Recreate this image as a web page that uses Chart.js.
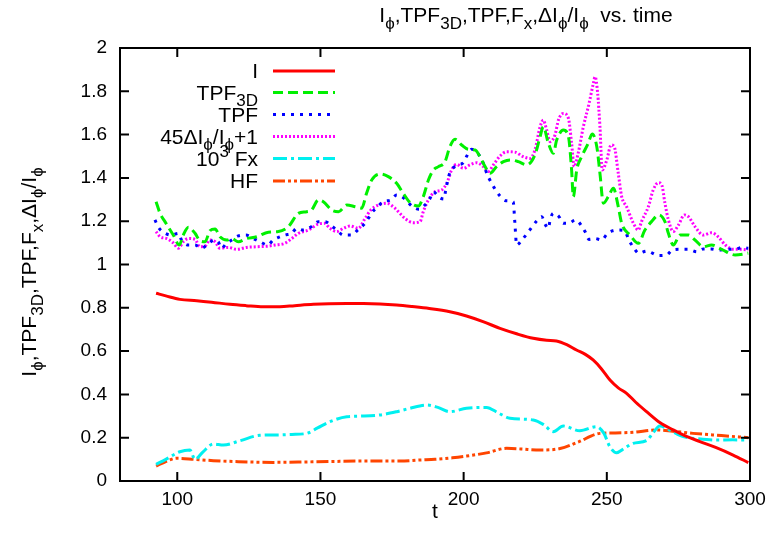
<!DOCTYPE html>
<html lang="en">
<head>
<meta charset="UTF-8">
<title>I, TPF vs. time</title>
<script src="https://cdn.jsdelivr.net/npm/chart.js"></script>
<style>
  body { margin: 0; background: #fff; }
  #chart { display: block; }
</style>
</head>
<body>
<canvas id="chart" width="778" height="548"></canvas>
<script>
// ---- data ----
const iT = [92.6, 96, 100.9, 106.8, 112, 118.4, 124, 130, 135.8, 141, 147.5, 153, 159.2, 165, 170.8, 176.6, 182, 188, 195.2, 201, 207, 212.7, 218.5, 224.3, 229, 232.4, 236, 239.4, 242.5, 245.2, 248, 251.1, 254, 256.9, 260, 263.9, 268.5, 273.2, 278, 282.5, 288, 294.1, 299.4];
const iVal = [0.867, 0.855, 0.839, 0.833, 0.826, 0.816, 0.81, 0.805, 0.805, 0.81, 0.816, 0.819, 0.82, 0.82, 0.818, 0.813, 0.806, 0.797, 0.782, 0.762, 0.735, 0.705, 0.68, 0.659, 0.65, 0.647, 0.63, 0.605, 0.585, 0.559, 0.52, 0.466, 0.43, 0.405, 0.365, 0.32, 0.27, 0.236, 0.205, 0.182, 0.155, 0.12, 0.085];

const tpf3dT = [92.6, 94, 95.7, 98.6, 100.7, 102.1, 103.9, 106.2, 107.9, 109.7, 111.4, 113.2, 114.9, 117.3, 119, 121.3, 124.2, 127.7, 131.8, 135.3, 138.8, 142.3, 145.2, 146.9, 149.3, 151, 153.9, 156.3, 159.2, 162.1, 164.4, 166.1, 167.9, 170.8, 173.7, 176.6, 178.9, 181.3, 184.2, 185.9, 187.7, 189.4, 191.2, 193.5, 195.2, 197, 199.3, 201.6, 204, 205.7, 207.5, 209.2, 211.5, 213.9, 216.2, 219.1, 222, 224.9, 226.7, 227.8, 229.6, 231.3, 232.5, 234.8, 236.6, 237.7, 238.3, 239.5, 241.2, 243.5, 244.9, 246.5, 247.6, 248.8, 250.5, 252.3, 254, 255.2, 258.1, 261, 263.3, 265.6, 268.2, 270.3, 271.5, 273.2, 275.6, 278.5, 280.8, 283.7, 286.6, 290.1, 294.8, 299.4];
const tpf3dVal = [1.29, 1.236, 1.198, 1.136, 1.09, 1.136, 1.172, 1.144, 1.11, 1.105, 1.156, 1.164, 1.128, 1.113, 1.12, 1.105, 1.12, 1.128, 1.149, 1.152, 1.175, 1.236, 1.244, 1.252, 1.298, 1.29, 1.252, 1.244, 1.275, 1.267, 1.26, 1.329, 1.39, 1.418, 1.406, 1.375, 1.329, 1.286, 1.27, 1.313, 1.39, 1.436, 1.452, 1.475, 1.544, 1.578, 1.552, 1.532, 1.529, 1.498, 1.452, 1.421, 1.452, 1.475, 1.483, 1.475, 1.46, 1.506, 1.59, 1.636, 1.56, 1.514, 1.575, 1.621, 1.59, 1.437, 1.313, 1.437, 1.498, 1.56, 1.603, 1.544, 1.421, 1.283, 1.313, 1.352, 1.267, 1.19, 1.136, 1.098, 1.159, 1.198, 1.229, 1.198, 1.144, 1.09, 1.136, 1.136, 1.113, 1.082, 1.09, 1.07, 1.044, 1.052];

const tpfT = [92.2, 93.4, 95.4, 98, 100.4, 101.5, 103.9, 106.2, 108.5, 110.8, 112.8, 114.3, 115.5, 117, 119, 121.3, 124, 126.6, 128.9, 131.6, 133.5, 135.3, 137.6, 140, 141.7, 144, 146.9, 149.3, 151.6, 153.9, 155.7, 158, 160.9, 163, 165, 166.7, 167.9, 170, 171.9, 174.6, 176.6, 178.4, 180.1, 181.9, 184.5, 186.5, 188.3, 189.4, 191.5, 193.1, 193.7, 194.9, 196.2, 198.1, 199.9, 201.1, 202.8, 204.9, 206.5, 208.3, 209.6, 211, 212.7, 214.7, 217.3, 217.9, 218.5, 220.5, 222.4, 223.8, 225.5, 227.3, 228.4, 229.6, 230.2, 231.3, 233.3, 234.8, 236.6, 239.1, 241, 242.4, 243.8, 245.9, 248.2, 250.1, 251.9, 254.3, 256.1, 257.9, 259.3, 261.2, 263.9, 268.2, 270.9, 272.9, 275.6, 278.5, 281.4, 283.7, 286.4, 288.9, 291.9, 294.8, 297.3, 299.4];
const tpfVal = [1.206, 1.172, 1.147, 1.136, 1.144, 1.113, 1.09, 1.09, 1.075, 1.095, 1.113, 1.105, 1.075, 1.095, 1.113, 1.132, 1.136, 1.12, 1.105, 1.09, 1.113, 1.125, 1.136, 1.144, 1.167, 1.159, 1.175, 1.198, 1.198, 1.178, 1.159, 1.136, 1.136, 1.159, 1.182, 1.213, 1.239, 1.267, 1.29, 1.298, 1.321, 1.313, 1.295, 1.27, 1.255, 1.275, 1.306, 1.336, 1.31, 1.302, 1.34, 1.413, 1.444, 1.46, 1.47, 1.501, 1.532, 1.514, 1.479, 1.413, 1.38, 1.347, 1.316, 1.295, 1.29, 1.19, 1.09, 1.116, 1.147, 1.172, 1.201, 1.221, 1.187, 1.167, 1.206, 1.236, 1.221, 1.19, 1.19, 1.206, 1.182, 1.152, 1.116, 1.12, 1.113, 1.141, 1.155, 1.159, 1.156, 1.109, 1.079, 1.052, 1.062, 1.041, 1.044, 1.067, 1.07, 1.07, 1.059, 1.072, 1.072, 1.067, 1.07, 1.07, 1.079, 1.075];

const dIT = [92.6, 94, 96.3, 98.6, 100.4, 102.1, 103.9, 106.2, 107.9, 109.7, 111.4, 113.2, 114.9, 117.8, 120.7, 124.2, 127.7, 131.8, 134.1, 137.6, 140, 142.3, 145.8, 149.3, 151.4, 153.3, 155.7, 158, 160.3, 163.2, 165.6, 167.6, 170.2, 173.1, 176, 177.2, 179.5, 182.4, 184.8, 185.9, 187.7, 190, 192.3, 194.1, 195.8, 197.6, 199.9, 202.2, 204.6, 206.9, 208.6, 210.4, 212.7, 215, 217.9, 220.8, 223.2, 224.9, 226.7, 227.8, 229, 230.2, 231.9, 233.1, 234.8, 236.6, 237.7, 238.6, 240, 241.8, 243.8, 245.3, 245.9, 246.8, 247.6, 248.4, 250, 251.5, 252.6, 254, 255.2, 256.9, 259.3, 261, 262.1, 264.5, 266.2, 268, 269.2, 270.3, 271.5, 273.2, 275, 277.1, 278.5, 280.8, 283.7, 286.6, 288.9, 291.4, 294.2, 297.1, 299.4];
const dIVal = [1.152, 1.128, 1.12, 1.1, 1.075, 1.105, 1.12, 1.116, 1.082, 1.085, 1.113, 1.105, 1.075, 1.079, 1.07, 1.079, 1.082, 1.085, 1.09, 1.098, 1.12, 1.144, 1.159, 1.187, 1.19, 1.167, 1.152, 1.167, 1.178, 1.167, 1.213, 1.252, 1.275, 1.283, 1.26, 1.244, 1.213, 1.193, 1.198, 1.244, 1.298, 1.336, 1.344, 1.375, 1.436, 1.463, 1.444, 1.46, 1.47, 1.452, 1.429, 1.46, 1.501, 1.521, 1.519, 1.498, 1.49, 1.529, 1.636, 1.667, 1.621, 1.567, 1.598, 1.667, 1.698, 1.675, 1.56, 1.452, 1.514, 1.636, 1.744, 1.837, 1.867, 1.791, 1.636, 1.437, 1.483, 1.552, 1.544, 1.421, 1.313, 1.267, 1.19, 1.159, 1.198, 1.267, 1.344, 1.378, 1.367, 1.283, 1.206, 1.152, 1.182, 1.229, 1.221, 1.175, 1.136, 1.147, 1.128, 1.09, 1.07, 1.07, 1.067];

const fxT = [92.6, 96, 100.9, 104.4, 106.2, 109, 112.6, 116.1, 121.9, 128.9, 135.8, 140, 145.2, 149, 153.3, 159.2, 165, 170.8, 176.6, 181, 187.1, 191, 195.2, 201, 208, 212, 216.2, 224.3, 228, 231.3, 234.8, 240.6, 246.4, 249, 251, 253.4, 256, 259.2, 263.9, 266, 268.5, 272, 276.7, 282, 288.3, 294, 299.4];
const fxVal = [0.077, 0.1, 0.135, 0.143, 0.1, 0.135, 0.171, 0.166, 0.186, 0.211, 0.213, 0.215, 0.22, 0.245, 0.274, 0.297, 0.3, 0.305, 0.32, 0.335, 0.351, 0.34, 0.32, 0.336, 0.34, 0.315, 0.29, 0.282, 0.26, 0.228, 0.254, 0.232, 0.251, 0.22, 0.16, 0.131, 0.15, 0.174, 0.187, 0.22, 0.254, 0.235, 0.205, 0.195, 0.189, 0.19, 0.189];

const hfT = [92.6, 96, 99.8, 106, 112.6, 120, 133.5, 145, 153.3, 165, 177.8, 184.7, 190, 196, 201, 208, 215, 220, 226.6, 233.7, 240, 247.6, 253, 259.2, 267.3, 273, 280.1, 290, 299.4];
const hfVal = [0.069, 0.09, 0.105, 0.1, 0.094, 0.09, 0.086, 0.088, 0.09, 0.092, 0.092, 0.097, 0.1, 0.107, 0.115, 0.13, 0.151, 0.148, 0.143, 0.15, 0.18, 0.22, 0.222, 0.225, 0.236, 0.23, 0.22, 0.21, 0.2];

const xTicks = [100, 150, 200, 250, 300];
const yTicks = [0, 0.2, 0.4, 0.6, 0.8, 1, 1.2, 1.4, 1.6, 1.8, 2];

const PHI = '\u03D5';
// rich text pieces: [text, 'n' | 'sub' | 'sup']
const titleParts = [['I','n'],[PHI,'sub'],[',TPF','n'],['3D','sub'],[',TPF,F','n'],['x','sub'],[',\u0394I','n'],[PHI,'sub'],['/I','n'],[PHI,'sub'],['  vs. time','n']];
const yLabelParts = [['I','n'],[PHI,'sub'],[',TPF','n'],['3D','sub'],[',TPF,F','n'],['x','sub'],[',\u0394I','n'],[PHI,'sub'],['/I','n'],[PHI,'sub']];
const legendParts = [
  [['I','n']],
  [['TPF','n'],['3D','sub']],
  [['TPF','n']],
  [['45\u0394I','n'],[PHI,'sub'],['/I','n'],[PHI,'sub'],['+1','n']],
  [['10','n'],['3','sup'],[' Fx','n']],
  [['HF','n']]
];

const FONT = '"Liberation Sans", Arial, Helvetica, sans-serif';
const FS = 19;   // tick labels
const LS = 21;   // title, axis labels, key

function pts(ts, vs) { return ts.map((t, i) => ({ x: t, y: vs[i] })); }

function partFont(kind, size) {
  return (kind === 'n' ? size : Math.round(size * 0.8)) + 'px ' + FONT;
}
function richWidth(ctx, parts, size) {
  let w = 0;
  parts.forEach(p => { ctx.font = partFont(p[1], size); w += ctx.measureText(p[0]).width; });
  return w;
}
function drawRich(ctx, parts, x, y, size, align) {
  const w = richWidth(ctx, parts, size);
  let cx = align === 'right' ? x - w : (align === 'center' ? x - w / 2 : x);
  ctx.textBaseline = 'alphabetic';
  ctx.textAlign = 'left';
  parts.forEach(p => {
    ctx.font = partFont(p[1], size);
    let dy = 0;
    if (p[1] === 'sub') dy = size * 0.32;
    if (p[1] === 'sup') dy = -size * 0.42;
    ctx.fillText(p[0], cx, y + dy);
    cx += ctx.measureText(p[0]).width;
  });
}

const framePlugin = {
  id: 'frame',
  afterDraw(chart) {
    const { ctx, chartArea: a, scales } = chart;
    ctx.save();
    ctx.strokeStyle = '#000';
    ctx.lineWidth = 2;
    ctx.setLineDash([]);
    ctx.strokeRect(a.left, a.top, a.right - a.left, a.bottom - a.top);
    const tl = 9;
    ctx.beginPath();
    xTicks.forEach(v => {
      const px = scales.x.getPixelForValue(v);
      ctx.moveTo(px, a.bottom); ctx.lineTo(px, a.bottom - tl);
      ctx.moveTo(px, a.top); ctx.lineTo(px, a.top + tl);
    });
    yTicks.forEach(v => {
      const py = scales.y.getPixelForValue(v);
      ctx.moveTo(a.left, py); ctx.lineTo(a.left + tl, py);
      ctx.moveTo(a.right, py); ctx.lineTo(a.right - tl, py);
    });
    ctx.stroke();

    ctx.fillStyle = '#000';
    // title, centred where the original sits
    drawRich(ctx, titleParts, 526, 22, LS, 'center');
    // x label
    ctx.font = LS + 'px ' + FONT;
    ctx.textAlign = 'center';
    ctx.textBaseline = 'alphabetic';
    ctx.fillText('t', 435, 518);
    // y label
    ctx.save();
    ctx.translate(36, 272);
    ctx.rotate(-Math.PI / 2);
    drawRich(ctx, yLabelParts, 0, 0, LS, 'center');
    ctx.restore();

    // key
    const rowY = [71, 92.5, 114.5, 136.5, 158.5, 181];
    chart.data.datasets.forEach((ds, i) => {
      const y = rowY[i];
      ctx.fillStyle = '#000';
      drawRich(ctx, legendParts[i], 258, y + 7, LS, 'right');
      ctx.strokeStyle = ds.borderColor;
      ctx.lineWidth = ds.borderWidth;
      ctx.setLineDash(ds.borderDash || []);
      ctx.beginPath();
      ctx.moveTo(273, y); ctx.lineTo(335, y);
      ctx.stroke();
    });
    ctx.restore();
  }
};

function series(ts, vs, color, dash) {
  return {
    data: pts(ts, vs),
    showLine: true,
    borderColor: color,
    borderWidth: 3,
    borderDash: dash,
    pointRadius: 0,
    fill: false,
    tension: 0.3,
    cubicInterpolationMode: 'monotone'
  };
}

new Chart(document.getElementById('chart'), {
  type: 'scatter',
  data: {
    datasets: [
      series(iT, iVal, '#ff0000', []),
      series(tpf3dT, tpf3dVal, '#00f000', [10, 5]),
      series(tpfT, tpfVal, '#0000ff', [3, 6]),
      series(dIT, dIVal, '#ff00ff', [2, 2]),
      series(fxT, fxVal, '#00f0f0', [14, 4, 3, 4]),
      series(hfT, hfVal, '#ff4500', [12, 3, 3, 3, 3, 3])
    ]
  },
  options: {
    responsive: false,
    animation: false,
    devicePixelRatio: 1,
    layout: { padding: { top: 48, right: 28, left: 0, bottom: 0 } },
    plugins: { legend: { display: false }, title: { display: false }, tooltip: { enabled: false } },
    scales: {
      x: {
        type: 'linear', min: 80, max: 300,
        afterBuildTicks: s => { s.ticks = xTicks.map(v => ({ value: v })); },
        afterFit: s => { s.height = 67; },
        grid: { display: false, drawTicks: false },
        border: { display: false },
        ticks: { color: '#000', font: { family: FONT, size: FS }, padding: 7, maxRotation: 0 }
      },
      y: {
        type: 'linear', min: 0, max: 2,
        afterBuildTicks: s => { s.ticks = yTicks.map(v => ({ value: v })); },
        afterFit: s => { s.width = 120; },
        grid: { display: false, drawTicks: false },
        border: { display: false },
        ticks: { color: '#000', font: { family: FONT, size: FS }, padding: 13,
                 callback: v => String(Number(v.toFixed(1))) }
      }
    }
  },
  plugins: [framePlugin]
});
</script>
</body>
</html>
